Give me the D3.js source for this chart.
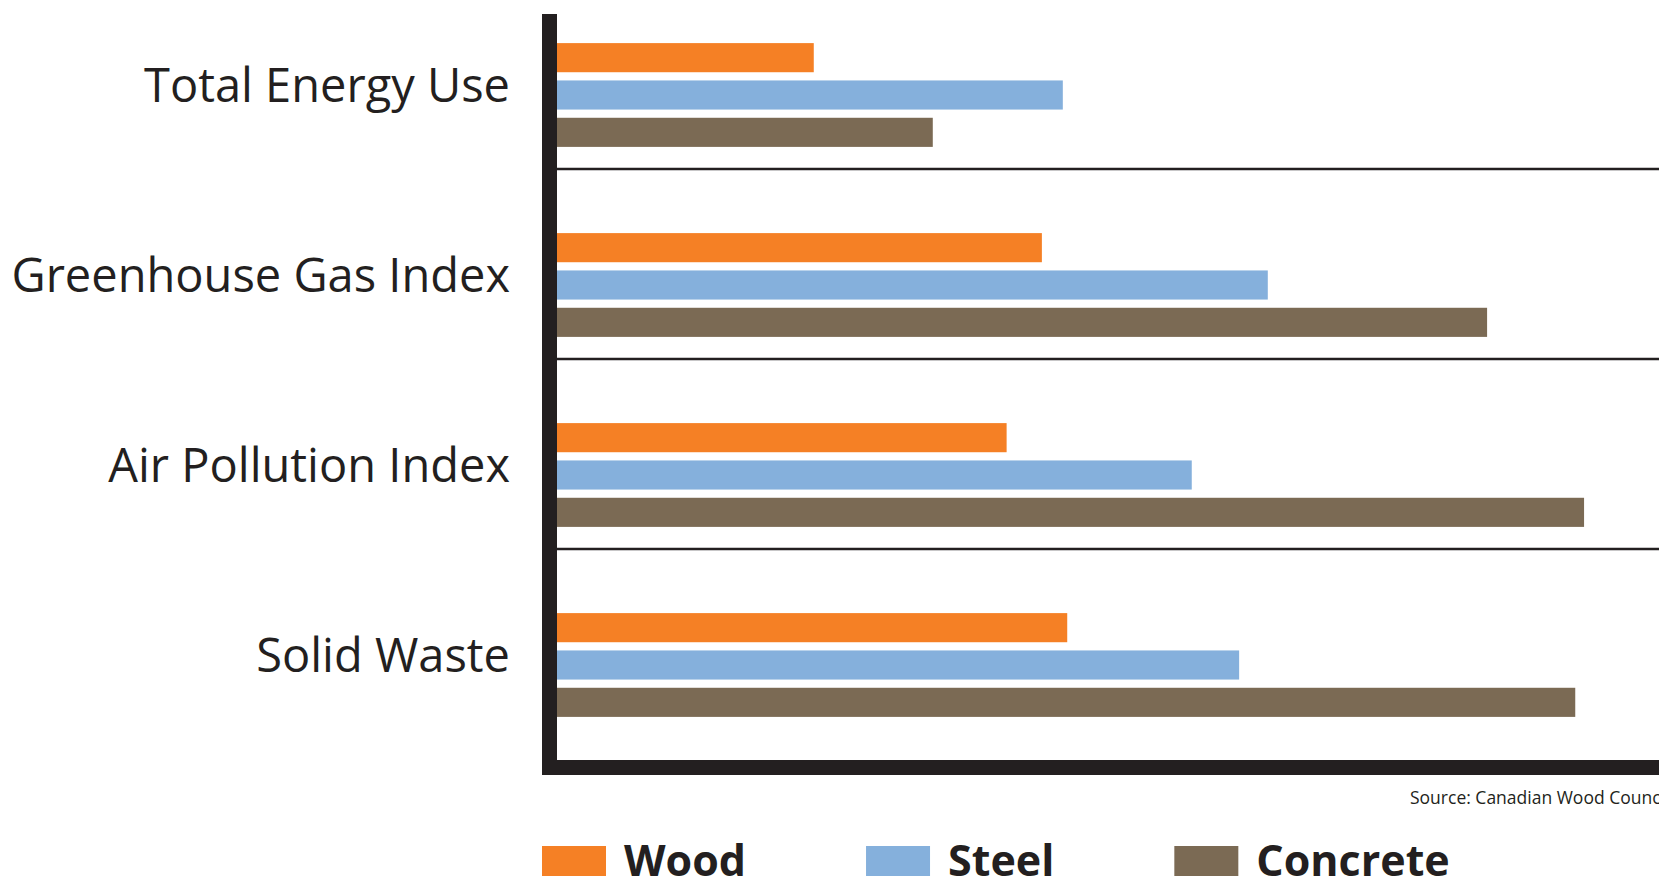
<!DOCTYPE html>
<html>
<head>
<meta charset="utf-8">
<script src="https://cdn.jsdelivr.net/npm/d3@7"></script>
<style>
  html, body { margin: 0; padding: 0; background: #fff; overflow: hidden; }
  svg { display: block; }
</style>
</head>
<body>
<svg id="chart" width="1659" height="880"></svg>
<script>
// ---- data ----
const categories = ["Total Energy Use", "Greenhouse Gas Index", "Air Pollution Index", "Solid Waste"];
const seriesNames = ["Wood", "Steel", "Concrete"];
const woodValues = [23.3, 44.0, 40.8, 46.3];
const steelValues = [45.9, 64.5, 57.6, 61.9];
const concreteValues = [34.1, 84.4, 93.2, 92.4];
const seriesColors = ["#f58025", "#85b0dc", "#7b6a54"];
const sourceText = "Source: Canadian Wood Council";

const seriesValues = [woodValues, steelValues, concreteValues];
const rows = categories.map((c, i) => ({
  category: c,
  values: seriesNames.map((s, j) => ({ series: s, value: seriesValues[j][i] }))
}));

// ---- layout ----
const W = 1659, H = 880;
const axisThick = 15;
const plotLeft = 557, plotTop = 0, plotBottom = 760, axisTop = 14;
const dark = "#231f20";
const font = "'Open Sans', 'Noto Sans', sans-serif";

const svg = d3.select("#chart");

const x = d3.scaleLinear().domain([0, 100]).range([plotLeft, W]);
const y = d3.scaleBand().domain(categories).range([plotTop, plotBottom]).padding(0);
const yInner = d3.scaleBand().domain(seriesNames)
  .range([-56, 56]).paddingInner(0.22).paddingOuter(0.11);
const color = d3.scaleOrdinal().domain(seriesNames).range(seriesColors);

// separators between groups
svg.append("g").selectAll("line")
  .data(categories.slice(0, -1))
  .join("line")
  .attr("x1", x(0)).attr("x2", W)
  .attr("y1", d => y(d) + y.bandwidth() * 0.89)
  .attr("y2", d => y(d) + y.bandwidth() * 0.89)
  .attr("stroke", dark).attr("stroke-width", 2.5);

// bars
const groups = svg.append("g").selectAll("g")
  .data(rows)
  .join("g")
  .attr("transform", d => `translate(0,${y(d.category) + y.bandwidth() / 2})`);

groups.selectAll("rect")
  .data(d => d.values)
  .join("rect")
  .attr("x", x(0))
  .attr("y", d => yInner(d.series))
  .attr("width", d => x(d.value) - x(0))
  .attr("height", yInner.bandwidth())
  .attr("fill", d => color(d.series));

// axis lines (thick)
svg.append("rect")
  .attr("x", x(0) - axisThick).attr("y", axisTop)
  .attr("width", axisThick).attr("height", plotBottom + axisThick - axisTop)
  .attr("fill", dark);
svg.append("rect")
  .attr("x", x(0) - axisThick).attr("y", plotBottom)
  .attr("width", W - x(0) + axisThick).attr("height", axisThick)
  .attr("fill", dark);

// category labels
const yAxis = svg.append("g")
  .attr("transform", `translate(${x(0)},0)`)
  .call(d3.axisLeft(y).tickSize(0).tickPadding(47));
yAxis.select(".domain").remove();
yAxis.selectAll("text")
  .attr("font-family", font)
  .attr("font-size", 47)
  .attr("fill", dark)
  .attr("dy", "0.15em");

// source
svg.append("text")
  .attr("x", 1410).attr("y", 804)
  .attr("font-family", font)
  .attr("font-size", 17.5)
  .attr("fill", dark)
  .text(sourceText);

// legend
const legend = svg.append("g").attr("transform", `translate(${x(0) - axisThick},846)`);
let cursor = 0;
seriesNames.forEach(s => {
  const g = legend.append("g").attr("transform", `translate(${cursor},0)`);
  g.append("rect").attr("width", 64).attr("height", 30).attr("fill", color(s));
  const t = g.append("text")
    .attr("x", 82).attr("y", 30)
    .attr("font-family", font)
    .attr("font-weight", "bold")
    .attr("font-size", 43)
    .attr("fill", dark)
    .text(s);
  cursor += 82 + t.node().getComputedTextLength() + 120;
});
</script>
</body>
</html>
